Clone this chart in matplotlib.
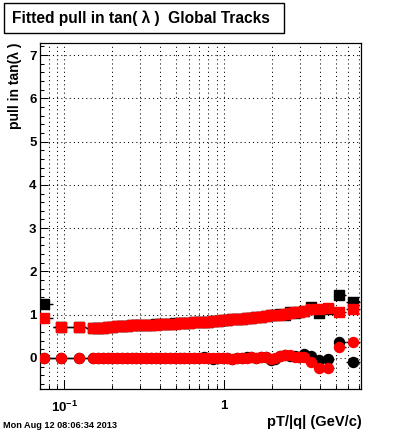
import numpy as np
import matplotlib
matplotlib.use("Agg")
import matplotlib.pyplot as plt
from matplotlib.patches import Rectangle
from matplotlib.ticker import FixedLocator, NullFormatter, MultipleLocator, FixedFormatter

plt.rcParams['font.family'] = ['Liberation Sans', 'DejaVu Sans']
plt.rcParams['font.weight'] = 'bold'
plt.rcParams['mathtext.fontset'] = 'custom'
plt.rcParams['mathtext.rm'] = 'Liberation Sans:bold'
plt.rcParams['mathtext.bf'] = 'Liberation Sans:bold'

# pT/|q| bin centres (GeV/c)
pt = [0.075, 0.096, 0.124,
      0.152, 0.163, 0.175, 0.187, 0.200, 0.215, 0.230, 0.247, 0.264,
      0.283, 0.303, 0.325, 0.348, 0.373, 0.400, 0.429, 0.459, 0.492,
      0.527, 0.565, 0.605, 0.649, 0.695, 0.745, 0.798, 0.855, 0.916,
      0.982, 1.052, 1.127, 1.208, 1.294, 1.387, 1.486, 1.592, 1.706,
      1.828, 1.959, 2.099, 2.249, 2.410, 2.582, 2.767, 2.965, 3.177,
      3.50, 3.96, 4.49, 5.25, 6.42]

# width of the pull distribution (squares)
sig_black = [1.24, 0.71, 0.71,
             0.69, 0.70, 0.70, 0.71, 0.72, 0.73, 0.74, 0.74, 0.75,
             0.76, 0.76, 0.77, 0.77, 0.78, 0.78, 0.79, 0.79, 0.80,
             0.80, 0.81, 0.81, 0.82, 0.83, 0.83, 0.84, 0.85, 0.86,
             0.87, 0.88, 0.89, 0.90, 0.91, 0.92, 0.93, 0.94, 0.95,
             0.97, 0.98, 0.98, 1.02, 1.00, 1.05, 1.04, 1.06, 1.08,
             1.17, 1.03, 1.12, 1.45, 1.30]
sig_red = [0.93, 0.71, 0.71,
           0.69, 0.70, 0.70, 0.71, 0.72, 0.73, 0.73, 0.74, 0.75,
           0.75, 0.76, 0.76, 0.77, 0.77, 0.78, 0.78, 0.79, 0.79,
           0.80, 0.80, 0.81, 0.82, 0.82, 0.83, 0.84, 0.85, 0.86,
           0.87, 0.88, 0.89, 0.90, 0.91, 0.92, 0.93, 0.94, 0.95,
           0.96, 0.98, 0.99, 1.00, 1.02, 1.03, 1.05, 1.07, 1.09,
           1.12, 1.12, 1.15, 1.07, 1.12]

# mean of the pull distribution (circles)
mean_black = [0.00, 0.00, 0.00,
              0.00, 0.00, 0.00, 0.00, 0.00, 0.00, 0.00, 0.00, 0.00,
              0.00, 0.00, 0.00, -0.01, 0.00, 0.00, 0.00, 0.00, 0.00,
              0.00, 0.00, -0.01, 0.00, 0.00, 0.01, 0.00, -0.02, 0.00,
              -0.01, -0.01, -0.02, -0.01, 0.00, 0.01, 0.01, -0.01, 0.02,
              0.01, -0.05, -0.03, 0.04, 0.06, 0.04, 0.05, 0.03, 0.08,
              0.05, -0.05, -0.02, 0.36, -0.10]
mean_red = [0.00, 0.00, 0.00,
            0.00, 0.00, 0.00, 0.00, 0.00, 0.00, 0.00, 0.00, 0.00,
            0.00, 0.00, 0.00, -0.01, 0.00, 0.00, 0.00, 0.00, 0.00,
            0.00, 0.00, -0.01, 0.00, 0.00, 0.00, 0.00, -0.01, 0.00,
            -0.01, -0.01, -0.02, -0.01, 0.00, 0.00, 0.01, -0.01, 0.02,
            0.02, -0.03, 0.00, 0.05, 0.07, 0.06, 0.02, 0.01, 0.02,
            -0.10, -0.24, -0.24, 0.25, 0.36]

# statistical errors
yerr_black = [0.03, 0.01, 0.01,
              0.01, 0.01, 0.01, 0.01, 0.01, 0.01, 0.01, 0.01, 0.01,
              0.01, 0.01, 0.01, 0.01, 0.01, 0.01, 0.01, 0.01, 0.01,
              0.01, 0.01, 0.01, 0.01, 0.01, 0.01, 0.01, 0.01, 0.01,
              0.01, 0.01, 0.01, 0.01, 0.01, 0.01, 0.01, 0.01, 0.01,
              0.01, 0.02, 0.02, 0.02, 0.02, 0.03, 0.03, 0.03, 0.04,
              0.05, 0.06, 0.07, 0.10, 0.10]

# bin half widths (log midpoints between neighbouring bins)
lg = np.log10(pt)
mid = (lg[1:] + lg[:-1]) / 2
lo = 10 ** np.concatenate([[lg[0] - (mid[0] - lg[0]) * 0.3], mid])
hi = 10 ** np.concatenate([mid, [2 * lg[-1] - mid[-1]]])
xerr = [np.array(pt) - lo, hi - np.array(pt)]

fig = plt.figure(figsize=(4.0, 4.33), dpi=100)
ax = fig.add_axes([0.1, 0.1016, 0.8025, 0.799])

ms = 7.2
ax.errorbar(pt, sig_black, xerr=xerr, yerr=yerr_black, fmt='s', color='black',
            ms=ms, elinewidth=1.0, capsize=0, zorder=3)
ax.errorbar(pt, mean_black, xerr=xerr, yerr=yerr_black, fmt='o', color='black',
            ms=ms, elinewidth=1.0, capsize=0, zorder=3)
ax.errorbar(pt, sig_red, xerr=xerr, yerr=yerr_black, fmt='s', mfc='red', mec='red',
            ecolor='black', ms=ms, elinewidth=1.0, capsize=0, zorder=4)
ax.errorbar(pt, mean_red, xerr=xerr, yerr=yerr_black, fmt='o', mfc='red', mec='red',
            ecolor='black', ms=ms, elinewidth=1.0, capsize=0, zorder=4)

ax.set_xscale('log')
ax.set_xlim(0.0705, 7.21)
ax.set_ylim(-0.72, 7.28)

ax.xaxis.set_major_locator(FixedLocator([0.1, 1.0]))
ax.xaxis.set_major_formatter(FixedFormatter([r'$\mathbf{10^{-1}}$', '1']))
minors = [0.08, 0.09, 0.2, 0.3, 0.4, 0.5, 0.6, 0.7, 0.8, 0.9, 2, 3, 4, 5, 6, 7]
ax.xaxis.set_minor_locator(FixedLocator(minors))
ax.xaxis.set_minor_formatter(NullFormatter())
ax.yaxis.set_major_locator(MultipleLocator(1))
ax.yaxis.set_minor_locator(MultipleLocator(0.2))

ax.grid(True, which='both', axis='x', color='black', lw=0.75, ls=(0, (1, 3)))
ax.grid(True, which='major', axis='y', color='black', lw=0.75, ls=(0, (1, 3)))
ax.set_axisbelow(True)

ax.tick_params(axis='both', which='both', direction='in', top=False, right=False,
               width=0.75, labelsize=9.5)
ax.tick_params(axis='y', which='major', length=5.5, pad=2.5)
ax.tick_params(axis='y', which='minor', length=2.6)
ax.tick_params(axis='x', which='major', length=6.5, pad=8)
ax.tick_params(axis='x', which='minor', length=3.2)
for s in ax.spines.values():
    s.set_linewidth(0.9)

# axis titles placed the ROOT way: y at top-left, x at bottom-right
fig.text(0.038, 0.9007, 'pull in tan(λ )', fontsize=10, fontweight='bold',
         rotation=90, ha='center', va='top')
fig.text(0.905, 0.025, 'pT/|q| (GeV/c)', fontsize=10.5, fontweight='bold',
         ha='right', va='center')

# title box
fig.patches.append(Rectangle((0.01, 0.924), 0.70, 0.069, transform=fig.transFigure,
                             fill=True, fc='white', ec='black', lw=1.0))
fig.text(0.03, 0.9585, 'Fitted pull in tan( λ )  Global Tracks', fontsize=11.2,
         fontweight='bold', va='center', ha='left')

fig.text(0.008, 0.018, 'Mon Aug 12 08:06:34 2013', fontsize=6.6, fontweight='bold',
         va='center', ha='left')

fig.savefig('out.png', dpi=100)
